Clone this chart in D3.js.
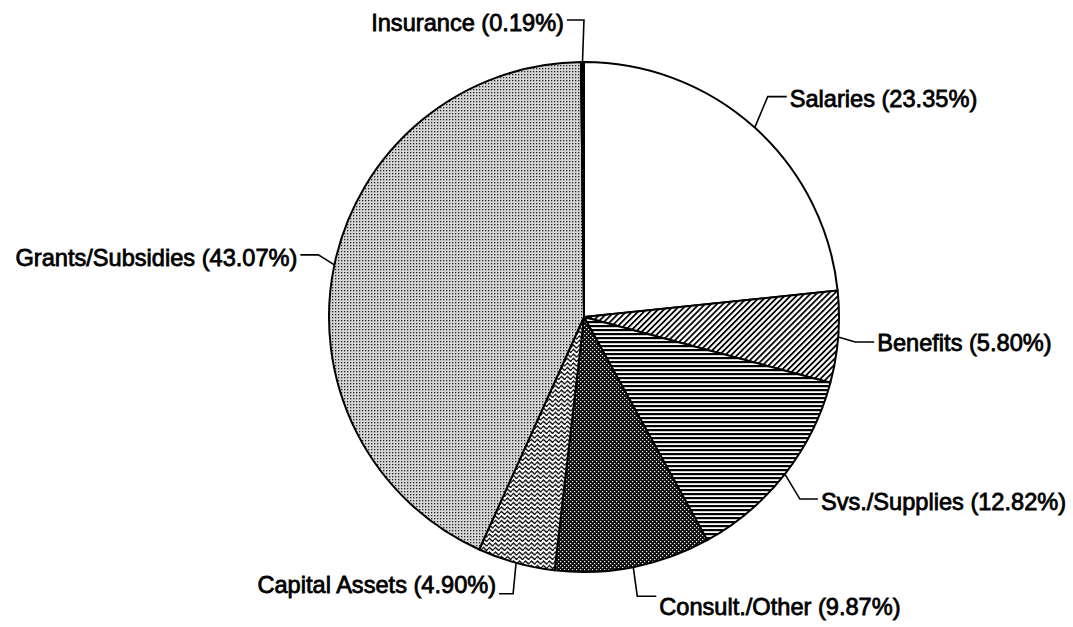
<!DOCTYPE html>
<html><head><meta charset="utf-8">
<script src="https://cdn.jsdelivr.net/npm/d3@7"></script>
<style>html,body{margin:0;padding:0;background:#fff;}svg{display:block;}</style>
</head><body>
<svg id="chart" width="1073" height="627"></svg>
<script>
// ---- data ----
const categories = ["Salaries", "Benefits", "Svs./Supplies", "Consult./Other", "Capital Assets", "Grants/Subsidies", "Insurance"];
const percents   = [23.35, 5.80, 12.82, 9.87, 4.90, 43.07, 0.19];
const labelText  = ["Salaries (23.35%)", "Benefits (5.80%)", "Svs./Supplies (12.82%)", "Consult./Other (9.87%)", "Capital Assets (4.90%)", "Grants/Subsidies (43.07%)", "Insurance (0.19%)"];

// ---- layout ----
const cx = 584, cy = 317, R = 255;
const fills = ["#fff", "url(#pBen)", "url(#pSvs)", "url(#pCon)", "url(#pCap)", "url(#pGra)", "#000"];
// leader layout per label: elbow offset from anchor, horizontal run, text side
const leader = [
  {e:[13,-31], h:19, anchor:"start", dy:10},
  {e:[17,5],   h:19, anchor:"start", dy:9},
  {e:[15,25],  h:18, anchor:"start", dy:11},
  {e:[4,29],   h:19, anchor:"start", dy:19},
  {e:[-3,31],  h:-14, anchor:"end", dy:-1},
  {e:[-16,-10],h:-18, anchor:"end", dy:11},
  {e:[1.5,-42],h:-17, anchor:"end", dy:11}
];

const svg = d3.select("#chart");
const defs = svg.append("defs");

// Benefits: diagonal hatch "/"
const pb = defs.append("pattern").attr("id","pBen").attr("patternUnits","userSpaceOnUse")
  .attr("width",4.2).attr("height",4.2).attr("patternTransform","rotate(45)");
pb.append("rect").attr("width",4.2).attr("height",4.2).attr("fill","#fff");
pb.append("rect").attr("x",0).attr("y",0).attr("width",1.8).attr("height",4.2).attr("fill","#000");

// Svs./Supplies: horizontal lines
const ps = defs.append("pattern").attr("id","pSvs").attr("patternUnits","userSpaceOnUse").attr("width",8).attr("height",4);
ps.append("rect").attr("width",8).attr("height",4).attr("fill","#fff");
ps.append("rect").attr("y",0).attr("width",8).attr("height",2.2).attr("fill","#000");

// Consult./Other: dark with white dots
const pc = defs.append("pattern").attr("id","pCon").attr("patternUnits","userSpaceOnUse").attr("width",4).attr("height",4);
pc.append("rect").attr("width",4).attr("height",4).attr("fill","#0a0a0a");
pc.append("rect").attr("x",0).attr("y",0).attr("width",1.2).attr("height",1.2).attr("fill","#fff");
pc.append("rect").attr("x",2).attr("y",2).attr("width",1.2).attr("height",1.2).attr("fill","#fff");

// Capital Assets: wavy lines
const pw = defs.append("pattern").attr("id","pCap").attr("patternUnits","userSpaceOnUse").attr("width",6).attr("height",4.5);
pw.append("rect").attr("width",6).attr("height",4.5).attr("fill","#fff");
pw.append("path").attr("d","M0,2.5 L1.5,1 L3,2.5 L4.5,4 L6,2.5").attr("fill","none").attr("stroke","#000").attr("stroke-width",1.4);

// Grants: light stipple
const pg = defs.append("pattern").attr("id","pGra").attr("patternUnits","userSpaceOnUse").attr("width",3).attr("height",3);
pg.append("rect").attr("width",3).attr("height",3).attr("fill","#d6d6d6");
pg.append("rect").attr("x",0).attr("y",0).attr("width",1.3).attr("height",1.3).attr("fill","#222");

const pie = d3.pie().sort(null).value(d => d)(percents);
const arc = d3.arc().innerRadius(0).outerRadius(R);

const g = svg.append("g").attr("transform", `translate(${cx},${cy})`);
g.selectAll("path.slice").data(pie).join("path").attr("class","slice")
  .attr("d", arc).attr("fill", (d,i) => fills[i])
  .attr("stroke","#000").attr("stroke-width",2).attr("stroke-linejoin","round");

// labels + leaders
pie.forEach((d,i) => {
  const a = (d.startAngle + d.endAngle)/2;
  const ax = R*Math.sin(a), ay = -R*Math.cos(a);
  const L = leader[i];
  const ex = ax + L.e[0], ey = ay + L.e[1];
  const hx = ex + L.h;
  g.append("polyline").attr("points", `${ax},${ay} ${ex},${ey} ${hx},${ey}`)
    .attr("fill","none").attr("stroke","#000").attr("stroke-width",1.6);
  g.append("text").attr("x", hx + (L.anchor==="start"?3:-3)).attr("y", ey + L.dy)
    .attr("text-anchor", L.anchor)
    .attr("font-family","'Liberation Sans', Arial, sans-serif").attr("font-size",23.6)
    .attr("fill","#000").attr("stroke","#000").attr("stroke-width",0.8)
    .text(labelText[i]);
});
</script>
</body></html>
